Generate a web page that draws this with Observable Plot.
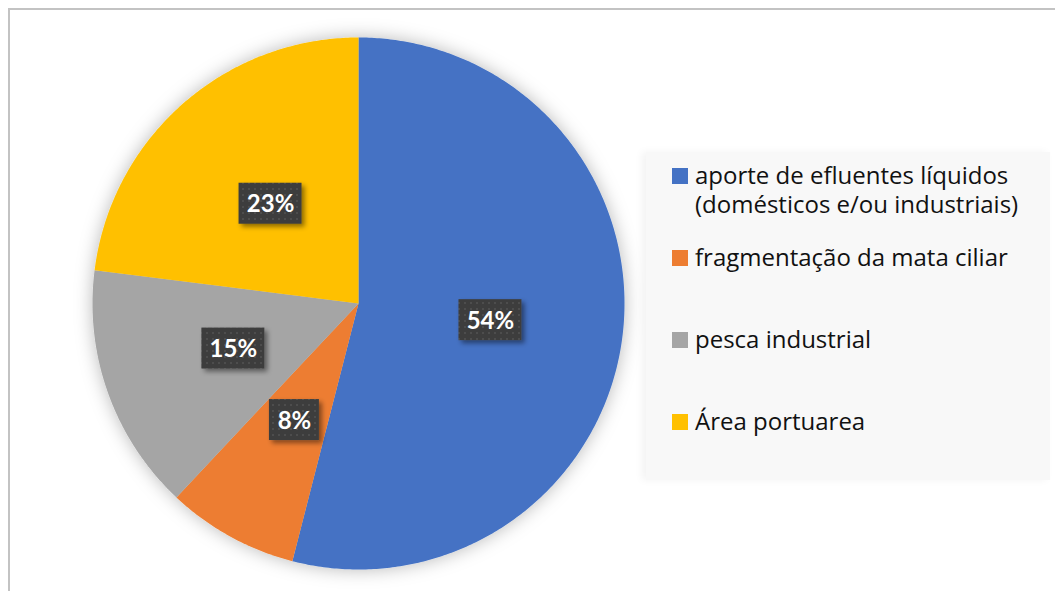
<!DOCTYPE html>
<html>
<head>
<meta charset="utf-8">
<script src="https://cdn.jsdelivr.net/npm/d3@7"></script>
<script src="https://cdn.jsdelivr.net/npm/@observablehq/plot@0.6"></script>
<style>
  html, body { margin: 0; padding: 0; background: #fff; }
  body { width: 1055px; height: 591px; position: relative; overflow: hidden; font-family: "Open Sans", Lato, sans-serif; }
  #chart { position: absolute; left: 0; top: 0; }
  #border { position: absolute; left: 8px; top: 8px; width: 1100px; height: 700px; border-left: 2px solid #c3c3c3; border-top: 2px solid #c3c3c3; pointer-events: none; }
  #legend { position: absolute; left: 646px; top: 152px; width: 404px; height: 328px; background: #f8f8f8; box-shadow: -4px 0 8px rgba(0,0,0,0.05); }
  .item { position: absolute; left: 26px; display: flex; align-items: flex-start; font-size: 24px; line-height: 29px; color: #111; }
  .txt { white-space: pre; }
  .sw { width: 16px; height: 16px; margin-top: 8px; margin-right: 7px; flex: none; }
</style>
</head>
<body>
<div id="chart"></div>
<div id="legend"></div>
<div id="border"></div>
<script>
const categories = [
  "aporte de efluentes líquidos (domésticos e/ou industriais)",
  "fragmentação da mata ciliar",
  "pesca industrial",
  "Área portuarea"
];
const legendLines = [
  ["aporte de efluentes líquidos", "(domésticos e/ou industriais)"],
  ["fragmentação da mata ciliar"],
  ["pesca industrial"],
  ["Área portuarea"]
];
const values = [54, 8, 15, 23];
const colors = ["#4472C4", "#ED7D31", "#A5A5A5", "#FFC000"];
const labels = values.map(v => v + "%");

// layout
const W = 1055, H = 591;
const cx = 358, cy = 303, r = 266;

const arcs = d3.pie().sort(null).value(d => d)(values);
const slicePts = [];
arcs.forEach((a, i) => {
  const n = Math.max(4, Math.ceil((a.endAngle - a.startAngle) / 0.01));
  slicePts.push({k: i, x: cx, y: cy, c: colors[i]});
  for (let j = 0; j <= n; j++) {
    const t = a.startAngle + (a.endAngle - a.startAngle) * j / n;
    slicePts.push({k: i, x: cx + r * Math.sin(t), y: cy - r * Math.cos(t), c: colors[i]});
  }
  slicePts.push({k: i, x: cx, y: cy, c: colors[i]});
});

const labelData = arcs.map((a, i) => {
  const m = (a.startAngle + a.endAngle) / 2;
  const x = cx + 0.5 * r * Math.sin(m);
  const y = cy - 0.5 * r * Math.cos(m);
  const w = 13 * labels[i].length + 24;
  return {x, y, x1: x - w / 2, x2: x + w / 2, y1: y - 20.5, y2: y + 20.5, label: labels[i]};
});

function defs() {
  const ns = "http://www.w3.org/2000/svg";
  const d = document.createElementNS(ns, "defs");
  d.innerHTML = `
    <pattern id="dots" width="6" height="6" patternUnits="userSpaceOnUse">
      <rect width="6" height="6" fill="#3e3e3e"/>
      <rect x="2" y="2" width="2" height="2" fill="#4e4e4e"/>
    </pattern>
    <filter id="pieShadow" x="-20%" y="-20%" width="140%" height="140%">
      <feDropShadow dx="0" dy="0" stdDeviation="9" flood-color="#000" flood-opacity="0.28"/>
    </filter>
    <filter id="boxShadow" x="-30%" y="-30%" width="160%" height="160%">
      <feDropShadow dx="3" dy="3" stdDeviation="2.5" flood-color="#000" flood-opacity="0.45"/>
    </filter>`;
  return d;
}

const plot = Plot.plot({
  width: W, height: H,
  margin: 0,
  x: {domain: [0, W], range: [0, W], axis: null},
  y: {domain: [0, H], range: [0, H], axis: null},
  color: {type: "identity"},
  marks: [
    defs,
    Plot.line(slicePts, {x: "x", y: "y", z: "k", fill: "c", stroke: "none", curve: "linear"}),
    Plot.rect(labelData, {x1: "x1", x2: "x2", y1: "y1", y2: "y2", fill: "url(#dots)"}),
    Plot.text(labelData, {x: "x", y: "y", text: "label", fill: "white", fontSize: 24, fontWeight: "bold", fontFamily: "Lato, sans-serif", dy: 1})
  ]
});
d3.select(plot).select('g[aria-label="line"]').attr("filter", "url(#pieShadow)");
d3.select(plot).select('g[aria-label="rect"]').attr("filter", "url(#boxShadow)");
document.getElementById("chart").appendChild(plot);

// legend
const legendTops = [8, 90, 172, 254];
const lg = d3.select("#legend");
categories.forEach((c, i) => {
  const it = lg.append("div").attr("class", "item").style("top", legendTops[i] + "px");
  it.attr("title", c);
  it.append("div").attr("class", "sw").style("background", colors[i]);
  it.append("div").attr("class", "txt").text(legendLines[i].join("\n"));
});
</script>
</body>
</html>
